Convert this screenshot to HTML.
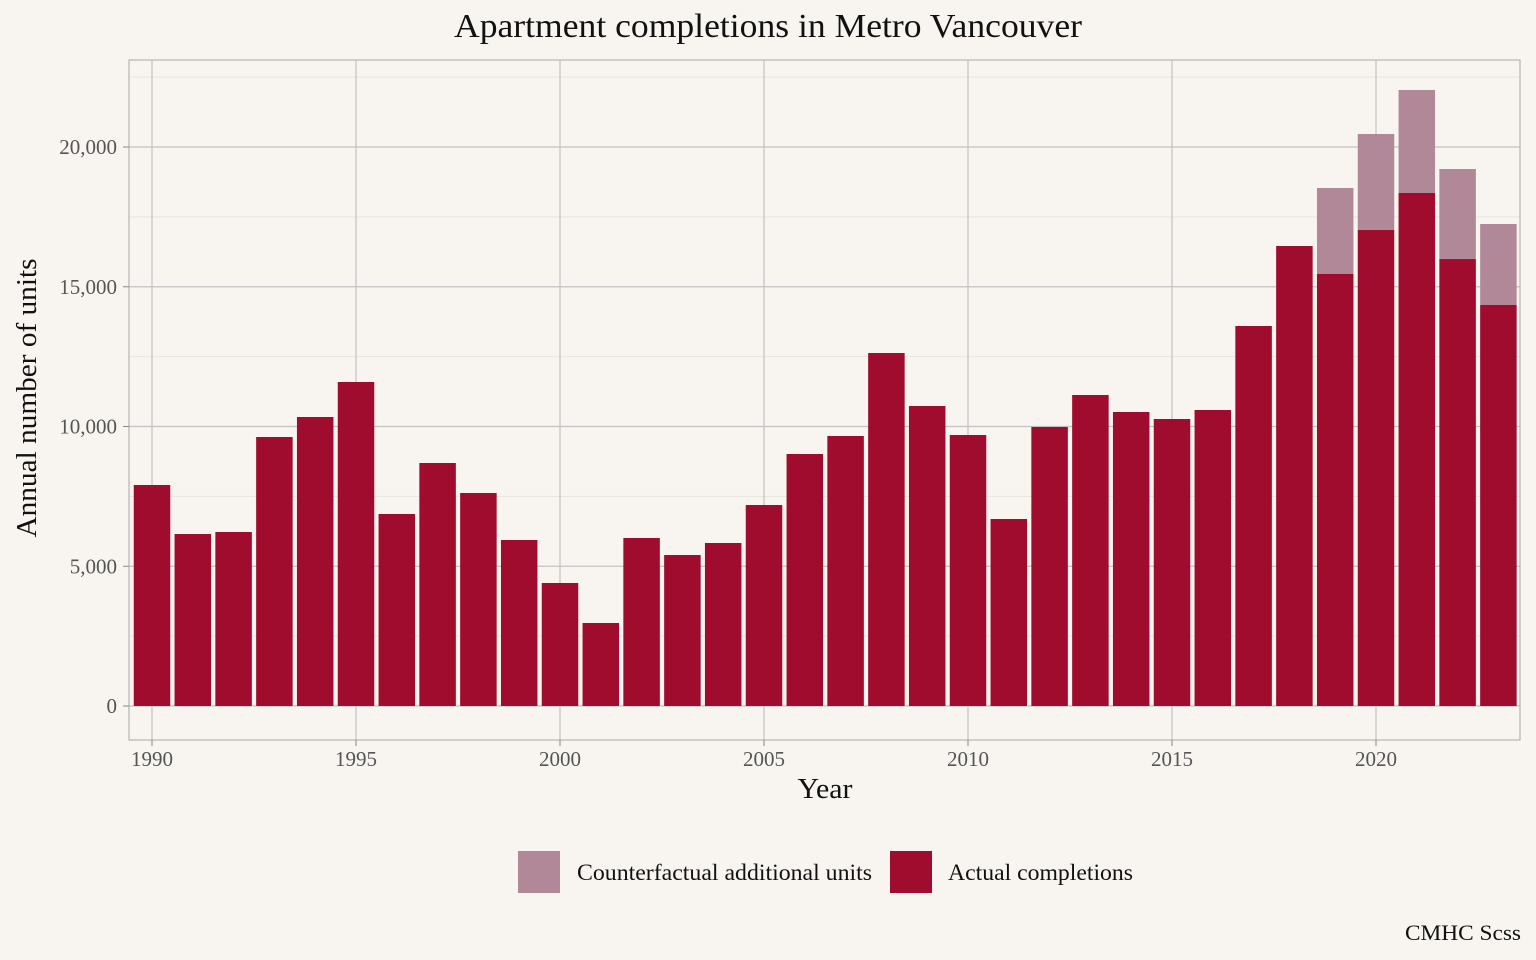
<!DOCTYPE html>
<html><head><meta charset="utf-8"><style>
html,body{margin:0;padding:0;background:#f8f5f0;}
svg{display:block;font-family:"Liberation Serif",serif;}
</style></head><body>
<svg id="chart" width="1536" height="960" viewBox="0 0 1536 960">
<rect x="0" y="0" width="1536" height="960" fill="#f8f5f0"/>
<text x="768" y="37" text-anchor="middle" font-size="34" textLength="628" lengthAdjust="spacingAndGlyphs" fill="#111">Apartment completions in Metro Vancouver</text>
<g id="grid"></g>
<g id="bars"></g>
<rect x="129" y="60" width="1391" height="680" fill="none" stroke="#b5b5b5" stroke-width="1.2"/>
<g id="axes"></g>
<text x="825" y="798" text-anchor="middle" font-size="28" textLength="55" lengthAdjust="spacingAndGlyphs" fill="#111">Year</text>
<text transform="translate(36,398) rotate(-90)" text-anchor="middle" font-size="28" textLength="279" lengthAdjust="spacingAndGlyphs" fill="#111">Annual number of units</text>
<g>
<g>
<rect x="518" y="851" width="42" height="42" fill="#b08898"/>
<text x="577" y="880" font-size="23" textLength="295" lengthAdjust="spacingAndGlyphs" fill="#111">Counterfactual additional units</text></g>
<g>
<rect x="890" y="851" width="42" height="42" fill="#a00c2d"/>
<text x="948" y="880" font-size="23" textLength="185" lengthAdjust="spacingAndGlyphs" fill="#111">Actual completions</text></g>
</g>
<text x="1521" y="940" text-anchor="end" font-size="22" textLength="116" lengthAdjust="spacingAndGlyphs" fill="#111">CMHC Scss</text>
</svg>
<script>
const years=[1990,1991,1992,1993,1994,1995,1996,1997,1998,1999,2000,2001,2002,2003,2004,2005,2006,2007,2008,2009,2010,2011,2012,2013,2014,2015,2016,2017,2018,2019,2020,2021,2022,2023];
const actual=[7907,6154,6225,9624,10340,11592,6869,8694,7621,5939,4401,2970,6011,5402,5832,7191,9016,9660,12630,10733,9696,6690,9982,11127,10519,10268,10590,13596,16458,15456,17030,18354,15992,14347];
const counterfactual=[0,0,0,0,0,0,0,0,0,0,0,0,0,0,0,0,0,0,0,0,0,0,0,0,0,0,0,0,0,3077,3435,3686,3221,2898];
const yTicks=[0,5000,10000,15000,20000];
const yTickLabels=["0","5,000","10,000","15,000","20,000"];
const xTicks=[1990,1995,2000,2005,2010,2015,2020];
const NS="http://www.w3.org/2000/svg";
const xS=v=>152+(v-1990)*40.8;
const yS=v=>706-v*0.02795;
const bw=36.5;
function mk(t,a,p){const e=document.createElementNS(NS,t);for(const k in a)e.setAttribute(k,a[k]);p.appendChild(e);return e;}
const grid=document.getElementById('grid'),bars=document.getElementById('bars'),axes=document.getElementById('axes');
for(let i=0;i<yTicks.length;i++){const m=yTicks[i]+2500;
 const l=mk('line',{x1:129,x2:1520,y1:yS(m),y2:yS(m),stroke:'#e8e4df','stroke-width':1},grid);
 }
yTicks.forEach((v,i)=>{
 const l=mk('line',{x1:129,x2:1520,y1:yS(v),y2:yS(v),stroke:'#c2c2c2','stroke-width':1.2},grid);
 
 const tk=mk('line',{x1:123,x2:129,y1:yS(v),y2:yS(v),stroke:'#888','stroke-width':1},axes);
 
 const t=mk('text',{x:117,y:yS(v)+7,'text-anchor':'end','font-size':21,fill:'#555'},axes);
 t.textContent=yTickLabels[i];
 
});
xTicks.forEach(v=>{
 const l=mk('line',{x1:xS(v),x2:xS(v),y1:60,y2:740,stroke:'#c2c2c2','stroke-width':1.2},grid);
 
 const tk=mk('line',{x1:xS(v),x2:xS(v),y1:740,y2:746,stroke:'#888','stroke-width':1},axes);
 
 const t=mk('text',{x:xS(v),y:766,'text-anchor':'middle','font-size':21,fill:'#555'},axes);
 t.textContent=v;
 
});
years.forEach((yr,i)=>{
 const x=xS(yr)-bw/2;
 const a=mk('rect',{x:x,y:yS(actual[i]),width:bw,height:yS(0)-yS(actual[i]),fill:'#a00c2d'},bars);
 
 if(counterfactual[i]>0){const tot=actual[i]+counterfactual[i];
  const c=mk('rect',{x:x,y:yS(tot),width:bw,height:yS(actual[i])-yS(tot),fill:'#b08898'},bars);
  }
});
</script>
</body></html>
